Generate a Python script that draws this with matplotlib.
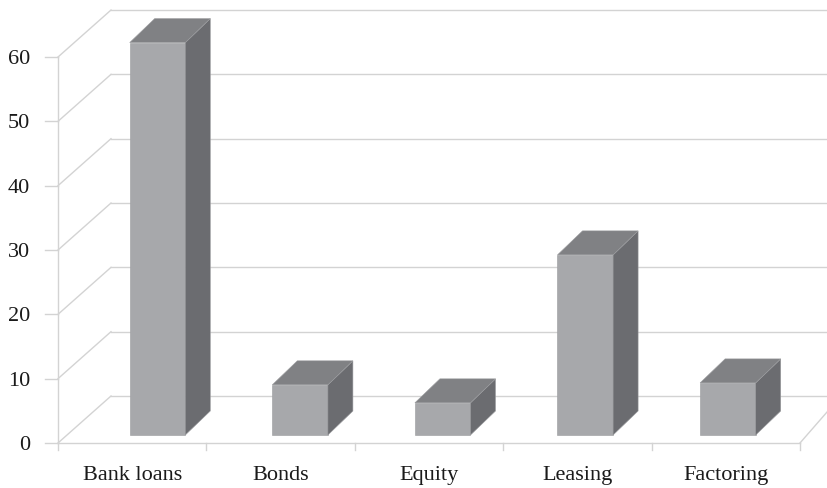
import matplotlib
matplotlib.use("Agg")
import matplotlib.pyplot as plt
from matplotlib.patches import Polygon

categories = ["Bank loans", "Bonds", "Equity", "Leasing", "Factoring"]
values = [61, 7.8, 5, 28, 8.1]
yticks = [0, 10, 20, 30, 40, 50, 60]

W, H = 828, 489
fig = plt.figure(figsize=(W / 100, H / 100), dpi=100)
ax = fig.add_axes([0, 0, 1, 1])
ax.set_xlim(0, W)
ax.set_ylim(H, 0)
ax.axis("off")

# projection (front plane) --------------------------------------------
X0, CW = 58.0, 148.4          # left edge of floor, width per category
Y0, YS = 444.0, 6.433         # baseline and px per unit
DX, DY = 53.0, 47.0           # wall depth
DX_R = 41.0                   # depth offset at right edge
n = len(categories)

def fx(c):
    return X0 + CW * c

def fy(v):
    return Y0 - YS * v

grid = "#d3d3d3"
lw = 1.0
font = dict(family="Liberation Serif", size=16, color="#1a1a1a")

# left wall / back wall gridlines
ax.plot([fx(0), fx(0)], [fy(0), fy(max(yticks))], color=grid, lw=lw)
for t in yticks:
    ax.plot([fx(0) - 13, fx(0)], [fy(t), fy(t)], color=grid, lw=lw)
    ax.plot([fx(0), fx(0) + DX], [fy(t), fy(t) - DY], color=grid, lw=lw)
    ax.plot([fx(0) + DX, W + 20], [fy(t) - DY, fy(t) - DY], color=grid, lw=lw)
    ax.text(fx(0) - 28, fy(t) + 1.5, str(t), ha="right", va="center", **font)

# floor
ax.plot([fx(0), fx(n)], [fy(0), fy(0)], color=grid, lw=lw)
ax.plot([fx(n), fx(n) + DX_R], [fy(0), fy(0) - DY], color=grid, lw=lw)
for i in range(n + 1):
    ax.plot([fx(i), fx(i)], [fy(0), fy(0) + 7], color=grid, lw=lw)

for i, c in enumerate(categories):
    ax.text(fx(i + 0.5), 475.5, c, ha="center", va="center", **font)

# bars -----------------------------------------------------------------
BX0, BCW = 86.2, 142.6        # bar plane offset / spacing
BHW = 27.8                    # half width of front face
BOFF = 8.0                    # bar front plane offset above floor front
BDX, BDY = 25.0, 24.0         # bar depth
c_front, c_top, c_side = "#a7a8ab", "#808184", "#6b6c70"

for i, v in enumerate(values):
    xc = BX0 + BCW * (i + 0.5)
    xl, xr = xc - BHW, xc + BHW
    yb = fy(0) - BOFF
    yt = yb - YS * v
    front = [(xl, yb), (xr, yb), (xr, yt), (xl, yt)]
    top = [(xl, yt), (xr, yt), (xr + BDX, yt - BDY), (xl + BDX, yt - BDY)]
    side = [(xr, yb), (xr + BDX, yb - BDY), (xr + BDX, yt - BDY), (xr, yt)]
    for pts, col in ((front, c_front), (side, c_side), (top, c_top)):
        ax.add_patch(Polygon(pts, closed=True, facecolor=col,
                             edgecolor="#9a9b9e", lw=0.4, zorder=3))

fig.savefig("out.png", dpi=100)
